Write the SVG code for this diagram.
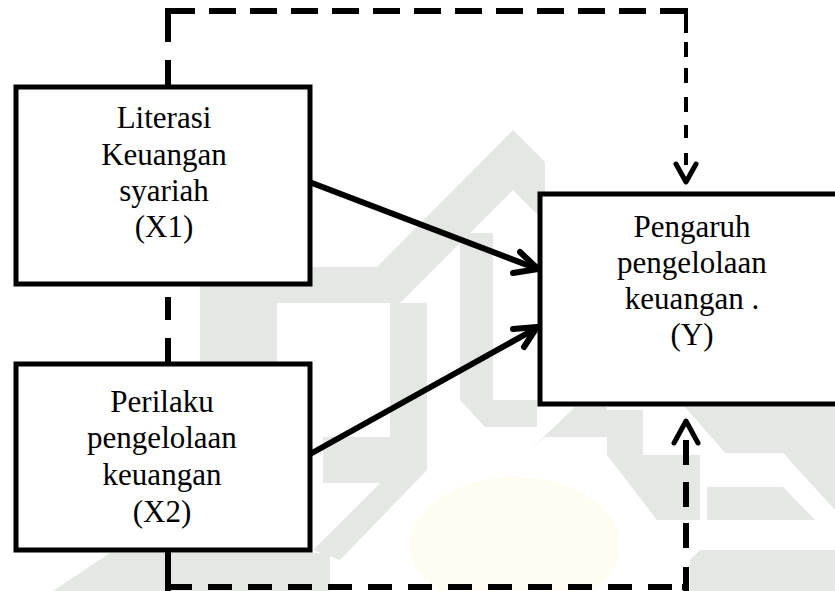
<svg xmlns="http://www.w3.org/2000/svg" width="835" height="591" viewBox="0 0 835 591">
<style>
.wm{fill:#e4e7e4;stroke:none}
.box{fill:#ffffff;stroke:#000;stroke-width:5}
.lbl{font-family:"Liberation Serif","Times New Roman",serif;font-size:31px;fill:#000;text-anchor:middle}
.dash{fill:none;stroke:#000;stroke-width:6;stroke-linecap:butt}
.dash-thin{fill:none;stroke:#000;stroke-width:4;stroke-linecap:butt}
.solid{fill:none;stroke:#000;stroke-width:6;stroke-linecap:round;stroke-linejoin:round}
.head{fill:none;stroke:#000;stroke-width:5;stroke-linecap:round;stroke-linejoin:round}
</style>
<rect x="0" y="0" width="835" height="591" fill="#ffffff"/>
<g id="watermark">
<ellipse cx="515" cy="545" rx="105" ry="68" fill="#fffdf2"/>
<polygon class="wm" points="200,267 377,267 513,130 545,162 545,222 513,190 400,303 277,303 277,450 200,450"/>
<polygon class="wm" points="390,303 427,303 427,437 390,483 323,483 323,437 390,437"/>
<polygon class="wm" points="460,233 493,233 493,400 537,400 537,427 485,427 460,400"/>
<polygon class="wm" points="53,591 110,553 330,553 330,591"/>
<polygon class="wm" points="313,550 427,437 427,470 340,560"/>
<polygon class="wm" points="530,450 575,407 607,407 607,437 545,437"/>
<polygon class="wm" points="607,410 643,410 643,455 700,455 700,520 657,520 607,455"/>
<polygon class="wm" points="685,407 835,407 835,453 725,453"/>
<polygon class="wm" points="783,453 835,453 835,510"/>
<polygon class="wm" points="707,487 783,487 815,520 707,520"/>
<polygon class="wm" points="690,560 700,550 835,550 835,591 690,591"/>
</g>
<g id="connectors">
<path class="dash" d="M168 11H195M209 11H236M250 11H277M291 11H318M332 11H359M373 11H400M414 11H441M455 11H482M496 11H523M537 11H564M578 11H605M619 11H646M660 11H688"/>
<path class="dash" d="M168 8V42M168 60V86"/>
<path class="dash-thin" d="M686 11V33M686 42V57M686 68V83M686 97V112M686 125V138M686 153V165"/>
<path class="head" d="M676 164L686 182L696 164"/>
<path class="dash" d="M168 297V320M168 338V362"/>
<path class="dash" d="M168 552V591M168 587H192M208 587H232M248 587H272M288 587H312M328 587H352M368 587H392M408 587H432M448 587H472M488 587H512M528 587H552M568 587H592M608 587H632M648 587H672M682 587H689M686 591V567M686 548V523M686 507V482M686 465V440"/>
<path class="head" d="M674 443L686 421L698 443"/>
<line class="solid" x1="312" y1="183" x2="535" y2="268"/>
<path class="solid" d="M520 252L538 269L513 273"/>
<line class="solid" x1="312" y1="453" x2="535" y2="329"/>
<path class="solid" d="M513 329L537 327L524 347"/>
</g>
<g id="node-x1">
<rect class="box" x="16" y="87" width="294" height="197"/>
<text class="lbl" x="164" y="128">Literasi</text>
<text class="lbl" x="164" y="165">Keuangan</text>
<text class="lbl" x="164" y="201">syariah</text>
<text class="lbl" x="164" y="237">(X1)</text>
</g>
<g id="node-x2">
<rect class="box" x="16" y="364" width="294" height="186"/>
<text class="lbl" x="162" y="412">Perilaku</text>
<text class="lbl" x="162" y="448">pengelolaan</text>
<text class="lbl" x="162" y="485">keuangan</text>
<text class="lbl" x="162" y="522">(X2)</text>
</g>
<g id="node-y">
<rect class="box" x="540" y="194" width="310" height="210"/>
<text class="lbl" x="692" y="237">Pengaruh</text>
<text class="lbl" x="692" y="273">pengelolaan</text>
<text class="lbl" x="692" y="309">keuangan .</text>
<text class="lbl" x="692" y="345">(Y)</text>
</g>
</svg>
